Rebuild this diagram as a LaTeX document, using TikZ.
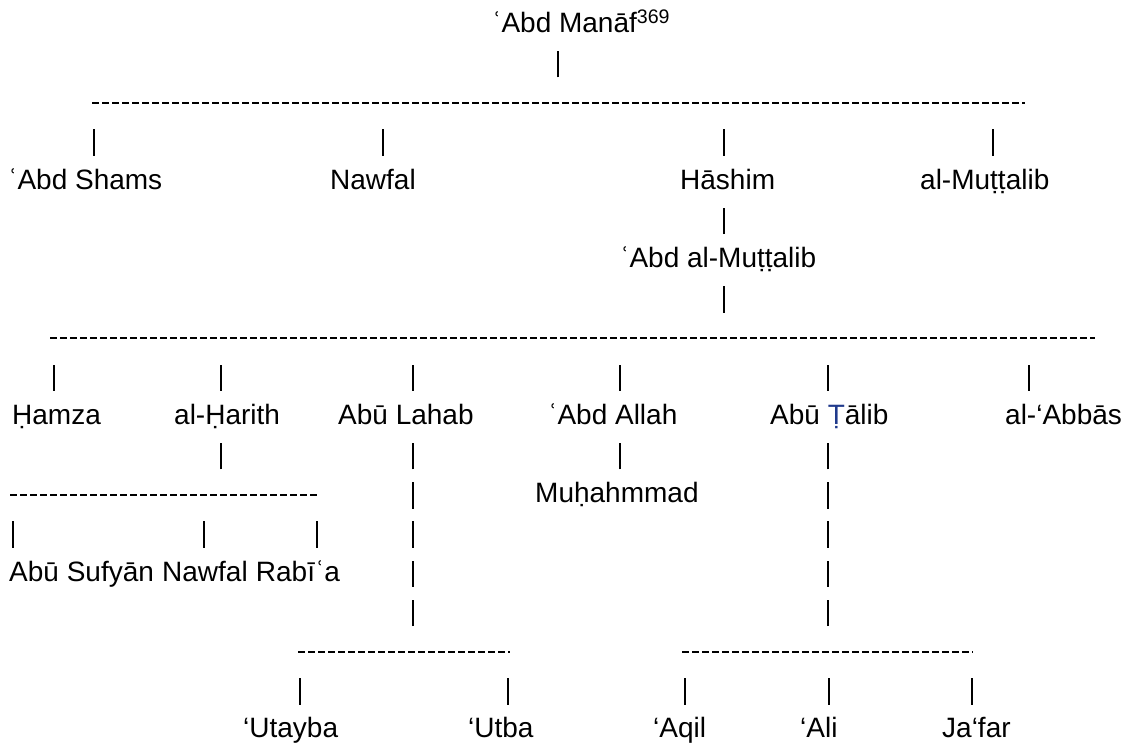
\documentclass[tikz,border=0pt]{standalone}
\usepackage{fontspec}
\setmainfont{Liberation Sans}
\usetikzlibrary{positioning}
\tikzset{
  kin/.style={anchor=base west,inner sep=0pt,font=\fontsize{28}{34}\selectfont},
  pipe/.style={line width=2.2pt},
  hyph/.style={line width=2.4pt,dash pattern=on 7pt off 3pt}
}
\begin{document}
\begin{tikzpicture}[x=1pt,y=-1pt]
    \definecolor{talibblue}{HTML}{203A8C}
    \useasboundingbox (0,0) rectangle (1128,745);
    \node[kin] (manaf) at (492,{32.2+39.2*0}) {ʿAbd Manāf\textsuperscript{369}};
    \foreach \name/\x/\k/\txt in {
      shams/8/4/ʿAbd Shams,
      nawfal/330/4/Nawfal,
      hashim/680/4/Hāshim,
      muttalib/920/4/al-Muṭṭalib,
      abdmut/620/6/ʿAbd al-Muṭṭalib,
      hamza/12/10/Ḥamza,
      harith/174/10/al-Ḥarith,
      lahab/338/10/Abū Lahab,
      abdallah/548/10/ʿAbd Allah,
      abbas/1005/10/al-‘Abbās,
      muhammad/535/12/Muḥahmmad,
      sufyan/9/14/Abū Sufyān,
      utayba/243/18/‘Utayba,
      utba/468/18/‘Utba,
      aqil/653/18/‘Aqil,
      ali/800/18/‘Ali,
      jafar/942/18/Ja‘far} {
      \node[kin] (\name) at (\x,{32.2+39.2*\k}) {\txt};
    }
    \node[kin] (talib) at (770,{32.2+39.2*10}) {Abū {\color{talibblue}Ṭ}ālib};
    \node[kin] (nawfalb) at ([xshift=7.8pt]sufyan.base east) {Nawfal};
    \node[kin] (rabia) at ([xshift=7.8pt]nawfalb.base east) {Rabīʿa};
    \foreach \x/\k in {558/1, 94/3, 383/3, 724/3, 993/3, 724/5, 724/7,
      54/9, 221/9, 413/9, 620/9, 828/9, 1029/9, 221/11, 413/11, 620/11, 828/11,
      413/12, 828/12, 13/13, 204/13, 317/13, 413/13, 828/13, 413/14, 828/14,
      413/15, 828/15, 300/17, 508/17, 685/17, 829/17, 972/17} {
      \draw[pipe] (\x,{32.2+39.2*\k+5.9}) -- ++(0,-26.3);
    }
    \foreach \a/\b/\k in {92/1025/2, 50/1095/8, 10/320/12, 298/510/16, 682/973/16} {
      \draw[hyph] (\a,{32.2+39.2*\k-7.6}) -- (\b,{32.2+39.2*\k-7.6});
    }
  \end{tikzpicture}
\end{document}
